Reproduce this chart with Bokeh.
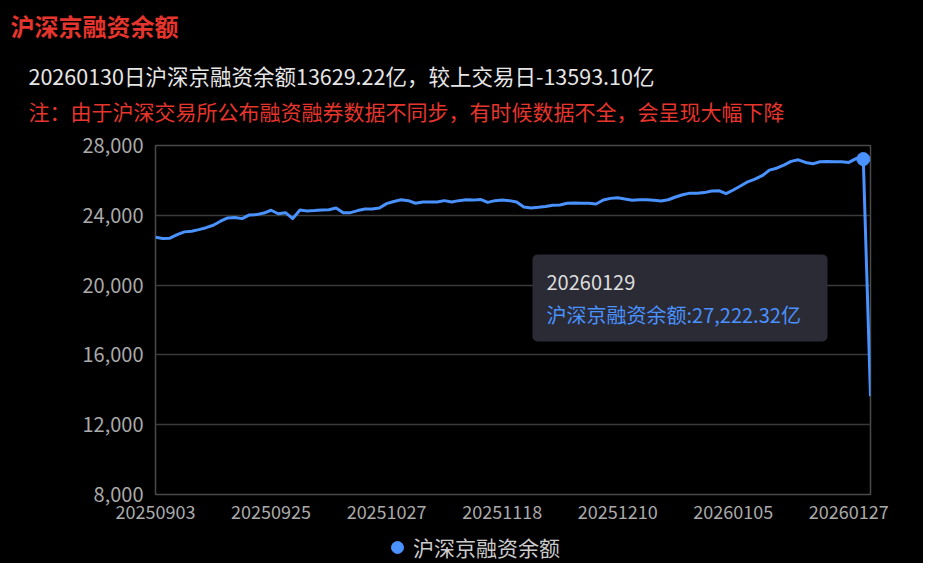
from bokeh.plotting import figure
from bokeh.layouts import column
from bokeh.models import (Range1d, FixedTicker, NumeralTickFormatter, Label, Title,
                          BoxAnnotation, ColumnDataSource, Legend, LegendItem)
from bokeh.embed import file_html
from bokeh.resources import INLINE

# ---------------- data ----------------
series_name = "沪深京融资余额"
dates = [
    "20250903", "20250904", "20250905", "20250908", "20250909", "20250910", "20250911", "20250912",
    "20250915", "20250916", "20250917", "20250918", "20250919", "20250922", "20250923", "20250924",
    "20250925", "20250926", "20250929", "20250930",
    "20251009", "20251010", "20251013", "20251014", "20251015", "20251016", "20251017", "20251020",
    "20251021", "20251022", "20251023", "20251024", "20251027", "20251028", "20251029", "20251030",
    "20251031",
    "20251103", "20251104", "20251105", "20251106", "20251107", "20251110", "20251111", "20251112",
    "20251113", "20251114", "20251117", "20251118", "20251119", "20251120", "20251121", "20251124",
    "20251125", "20251126", "20251127", "20251128",
    "20251201", "20251202", "20251203", "20251204", "20251205", "20251208", "20251209", "20251210",
    "20251211", "20251212", "20251215", "20251216", "20251217", "20251218", "20251219", "20251222",
    "20251223", "20251224", "20251225", "20251226", "20251229", "20251230", "20251231",
    "20260105", "20260106", "20260107", "20260108", "20260109", "20260112", "20260113", "20260114",
    "20260115", "20260116", "20260119", "20260120", "20260121", "20260122", "20260123", "20260126",
    "20260127", "20260128", "20260129", "20260130",
]
values = [
    22740, 22670, 22690, 22890, 23050, 23090, 23180, 23290, 23430, 23660,
    23850, 23870, 23810, 24020, 24040, 24130, 24290, 24090, 24150, 23810,
    24300, 24250, 24270, 24300, 24320, 24420, 24150, 24150, 24270, 24360,
    24360, 24420, 24670, 24790, 24890, 24840, 24690, 24760, 24760, 24760,
    24840, 24760, 24840, 24890, 24870, 24910, 24740, 24840, 24870, 24840,
    24760, 24480, 24420, 24460, 24510, 24570, 24590, 24690, 24700, 24690,
    24690, 24650, 24880, 24970, 25010, 24930, 24860, 24890, 24890, 24860,
    24820, 24890, 25050, 25180, 25270, 25270, 25300, 25390, 25410, 25240,
    25450, 25680, 25920, 26070, 26270, 26590, 26700, 26880, 27090, 27180,
    27030, 26950, 27070, 27090, 27070, 27070, 27030, 27250, 27222.32, 13629.22,
]
x_tick_index = [0, 16, 32, 48, 64, 80, 96]
y_ticks = [8000, 12000, 16000, 20000, 24000, 28000]
y_min, y_max = 8000, 28000
hover_index = 98

FONT = "Noto Sans CJK SC"
BLUE = "#4992ff"
RED = "#e5352d"

idx = list(range(len(dates)))
src = ColumnDataSource(dict(i=idx, v=values, d=dates))

p = figure(width=923, height=532, output_backend="svg", toolbar_location=None,
           x_range=Range1d(0, len(dates) - 1), y_range=Range1d(y_min, y_max),
           min_border_left=155, min_border_right=53, min_border_top=145, min_border_bottom=38)
p.background_fill_color = "black"
p.border_fill_color = "black"
p.outline_line_color = "#4a4a4a"
p.outline_line_width = 1.5
p.xgrid.visible = False
p.ygrid.grid_line_color = "#3a3a3a"
p.ygrid.grid_line_width = 1.5

p.yaxis.ticker = FixedTicker(ticks=y_ticks)
p.yaxis.formatter = NumeralTickFormatter(format="0,0")
p.xaxis.ticker = FixedTicker(ticks=x_tick_index)
p.xaxis.major_label_overrides = {k: dates[k] for k in x_tick_index}
for ax in (p.xaxis, p.yaxis):
    ax.axis_line_color = None
    ax.major_tick_line_color = None
    ax.minor_tick_line_color = None
    ax.major_tick_out = 0
    ax.major_tick_in = 0
    ax.major_label_text_color = "#aaaaaa"
    ax.major_label_text_font = FONT
p.yaxis.major_label_text_font_size = "20px"
p.xaxis.major_label_text_font_size = "18px"
p.yaxis.major_label_standoff = 12
p.xaxis.major_label_standoff = 10

p.line(x="i", y="v", source=src, line_color=BLUE, line_width=3, line_join="round")
p.scatter(x=[hover_index], y=[values[hover_index]], size=13, color=BLUE)

# header texts, stacked above the plot (first added = closest to the frame)
last, prev = values[-1], values[-2]


def add_title(text, color, size, style, standoff, offset):
    p.add_layout(Title(text=text, text_color=color, text_font=FONT, text_font_size=size,
                       text_font_style=style, align="left", offset=offset, standoff=standoff), "above")


add_title(" ", "black", "1px", "normal", 17, 0)  # spacing
add_title("注：由于沪深交易所公布融资融券数据不同步，有时候数据不全，会呈现大幅下降", RED, "21px", "normal", 0, -127)
add_title(f"{dates[-1]}日{series_name}{last:.2f}亿，较上交易日{last - prev:.2f}亿", "#e6e6e6", "21.5px", "normal", 6, -127)
add_title(" ", "black", "1px", "normal", 9, 0)  # spacing
add_title(series_name, RED, "24px", "bold", 0, -145)

# static tooltip
box = BoxAnnotation(left=377, right=672, top=240, bottom=153,
                    left_units="screen", right_units="screen", top_units="screen", bottom_units="screen",
                    fill_color="#2b2b36", fill_alpha=1.0, line_color=None, border_radius=5)
p.add_layout(box)


def lab(text, x, y, color, size):
    p.add_layout(Label(x=x, y=y, x_units="screen", y_units="screen", text=text,
                       text_color=color, text_font=FONT, text_font_size=size,
                       text_baseline="middle", text_align="left"))


lab(dates[hover_index], 391, 212, "#dddddd", "20px")
lab(f"{series_name}:{values[hover_index]:,.2f}亿", 391, 180, BLUE, "20px")

# legend strip below the chart (its frame is aligned with the main frame)
pl = figure(width=923, height=31, output_backend="svg", toolbar_location=None,
            x_range=Range1d(0, 1), y_range=Range1d(0, 1),
            x_axis_location=None, y_axis_location=None,
            min_border_left=0, min_border_right=0, min_border_top=0, min_border_bottom=0)
pl.background_fill_color = "black"
pl.border_fill_color = "black"
pl.outline_line_color = None
pl.grid.visible = False
# proxy renderer for the legend glyph (its point lies outside this strip's ranges)
leg_r = pl.scatter(x=[hover_index], y=[values[hover_index]], color=BLUE)
legend = Legend(items=[LegendItem(label=series_name, renderers=[leg_r])],
                location=(227, 1), orientation="horizontal",
                glyph_width=30, glyph_height=30, label_standoff=1,
                padding=0, margin=0, spacing=0,
                background_fill_alpha=0, border_line_color=None,
                label_text_color="#cccccc", label_text_font=FONT,
                label_text_font_size="21px")
pl.add_layout(legend)

layout = column(p, pl, spacing=0, styles={"background-color": "black"})
open("out.html", "w").write(file_html(layout, INLINE))
